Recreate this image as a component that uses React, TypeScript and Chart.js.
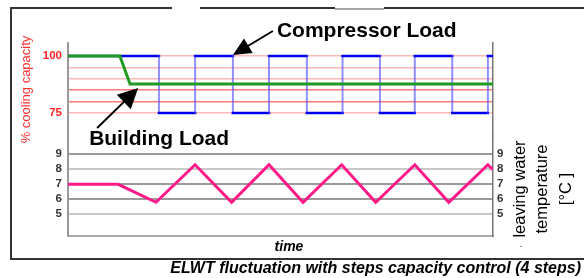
import React, { useEffect, useRef } from 'react';
import { Chart, registerables } from 'chart.js';

Chart.register(...registerables);

// ---------- data ----------
const buildingLoadTimes = [0, 12.2, 14.6, 100];
const buildingLoadValues = [100, 100, 87.7, 87.7];

const compressorSwitchTimes = [0, 21.4, 29.9, 38.8, 47.3, 56.2, 64.6, 73.4, 81.6, 90.4, 98.8];
const compressorLevels = [100, 75, 100, 75, 100, 75, 100, 75, 100, 75, 100];

const elwtTimes = [0, 11.8, 20.7, 29.9, 38.5, 47.3, 55.3, 64.4, 72.4, 81.6, 89.6, 98.8, 100];
const elwtValues = [7.0, 7.0, 5.8, 8.3, 5.8, 8.3, 5.8, 8.3, 5.8, 8.3, 5.8, 8.3, 7.98];

const capacityTicks = [100, 95, 90, 85, 80, 75];
const capacityLabelled = [100, 75];
const temperatureTicks = [9, 8, 7, 6, 5];

const timeRange = [0, 100];
const capacityRange = [64.9, 105.7];
const temperatureRange = [3.55, 10.22];

const compressorNote = { t: 38.8, v: 100, text: 'Compressor Load' };
const buildingNote = { t: 16.5, v: 87.7, text: 'Building Load' };
const leftTitle = '% cooling capacity';
const rightTitle = ['leaving water', 'temperature', '[°C ]'];
const xTitle = 'time';
const caption = 'ELWT fluctuation with steps capacity control (4 steps)';

// ---------- styles ----------
const FONT = '"Liberation Sans", Arial, Helvetica, sans-serif';
const capacityGridColor = (v: number) => (v === 85 || v === 80 ? '#ff7878' : '#ffb8b8');
const temperatureGridColor = (v: number) => (v === 8 || v === 5 ? '#c8c8c8' : '#9a9a9a');

function drawArrow(ctx: CanvasRenderingContext2D, x1: number, y1: number, x2: number, y2: number, headLen: number, headHalf: number) {
  const dx = x2 - x1;
  const dy = y2 - y1;
  const len = Math.hypot(dx, dy);
  const ux = dx / len;
  const uy = dy / len;
  const bx = x2 - ux * headLen;
  const by = y2 - uy * headLen;
  ctx.beginPath();
  ctx.moveTo(x1, y1);
  ctx.lineTo(bx + ux * 2, by + uy * 2);
  ctx.lineWidth = 2;
  ctx.strokeStyle = '#000';
  ctx.stroke();
  ctx.beginPath();
  ctx.moveTo(x2, y2);
  ctx.lineTo(bx - uy * headHalf, by + ux * headHalf);
  ctx.lineTo(bx + uy * headHalf, by - ux * headHalf);
  ctx.closePath();
  ctx.fillStyle = '#000';
  ctx.fill();
}

const overlayPlugin = {
  id: 'overlay',
  afterDraw(chart: any) {
    const { ctx } = chart;
    const xs = chart.scales.x;
    const yt = chart.scales.yTop;
    ctx.save();

    // outer frame
    ctx.lineWidth = 2;
    ctx.strokeStyle = '#333';
    ctx.beginPath();
    ctx.moveTo(11, 8);
    ctx.lineTo(11, 259);
    ctx.lineTo(584, 259);
    ctx.moveTo(10, 8);
    ctx.lineTo(172, 8);
    ctx.moveTo(200, 8);
    ctx.lineTo(335, 8);
    ctx.moveTo(384, 8);
    ctx.lineTo(584, 8);
    ctx.stroke();
    ctx.strokeStyle = '#888';
    ctx.lineWidth = 1.5;
    ctx.beginPath();
    ctx.moveTo(335, 9);
    ctx.lineTo(384, 9);
    ctx.stroke();

    // compressor annotation
    const cx = xs.getPixelForValue(compressorNote.t);
    const cy = yt.getPixelForValue(compressorNote.v);
    drawArrow(ctx, cx + 40, cy - 25, cx, cy - 1, 18, 8.5);
    ctx.font = `bold 21px ${FONT}`;
    ctx.fillStyle = '#000';
    ctx.textAlign = 'left';
    ctx.textBaseline = 'alphabetic';
    ctx.fillText(compressorNote.text, cx + 44, cy - 19);

    // building annotation
    const bx = xs.getPixelForValue(buildingNote.t);
    const by = yt.getPixelForValue(buildingNote.v) + 4;
    drawArrow(ctx, bx - 41, by + 40, bx, by, 20, 10);
    ctx.font = `bold 21px ${FONT}`;
    ctx.fillStyle = '#000';
    ctx.fillText(buildingNote.text, bx - 49, by + 57);

    // right axis title (reads bottom to top)
    ctx.font = `16.5px ${FONT}`;
    ctx.fillStyle = '#000';
    ctx.textAlign = 'center';
    ctx.textBaseline = 'middle';
    const rx = [520, 542, 566];
    rightTitle.forEach((line, i) => {
      ctx.save();
      ctx.translate(rx[i], 189);
      ctx.rotate(-Math.PI / 2);
      ctx.fillText(line, 0, 0);
      ctx.restore();
    });
    ctx.font = `9px ${FONT}`;
    ctx.fillStyle = '#777';
    ctx.fillText('-', 521, 247);

    // x title
    ctx.font = `italic bold 14px ${FONT}`;
    ctx.fillStyle = '#000';
    ctx.textAlign = 'center';
    ctx.textBaseline = 'alphabetic';
    ctx.fillText(xTitle, 289, 251);

    // caption
    ctx.font = `italic bold 16px ${FONT}`;
    ctx.textAlign = 'right';
    ctx.fillText(caption, 581, 273);

    ctx.restore();
  },
};

export default function App() {
  const ref = useRef<HTMLCanvasElement>(null);

  useEffect(() => {
    document.body.style.margin = '0';
    const compressorPoints: { x: number; y: number }[] = [];
    compressorSwitchTimes.forEach((t, i) => {
      if (i > 0) compressorPoints.push({ x: t, y: compressorLevels[i - 1] });
      compressorPoints.push({ x: t, y: compressorLevels[i] });
    });
    compressorPoints.push({ x: timeRange[1], y: compressorLevels[compressorLevels.length - 1] });

    const chart = new Chart(ref.current!, {
      type: 'line',
      data: {
        datasets: [
          {
            label: 'Building Load',
            data: buildingLoadTimes.map((t, i) => ({ x: t, y: buildingLoadValues[i] })),
            xAxisID: 'x',
            yAxisID: 'yTop',
            borderColor: '#229a22',
            borderWidth: 3,
            pointRadius: 0,
            tension: 0,
          },
          {
            label: 'Compressor Load',
            data: compressorPoints,
            xAxisID: 'x',
            yAxisID: 'yTop',
            borderColor: '#0000ee',
            borderWidth: 2.5,
            borderCapStyle: 'square',
            pointRadius: 0,
            tension: 0,
            segment: {
              borderColor: (c: any) => (c.p0.parsed.x === c.p1.parsed.x ? 'rgba(70,70,255,0.6)' : '#0000ee'),
              borderWidth: (c: any) => (c.p0.parsed.x === c.p1.parsed.x ? 2 : 2.5),
            },
          },
          {
            label: 'ELWT',
            data: elwtTimes.map((t, i) => ({ x: t, y: elwtValues[i] })),
            xAxisID: 'x',
            yAxisID: 'yBot',
            borderColor: '#ff1a8a',
            borderWidth: 3,
            pointRadius: 0,
            tension: 0,
          },
        ],
      },
      options: {
        responsive: false,
        animation: false,
        devicePixelRatio: 1,
        layout: { padding: { top: 43, left: 0, right: 0, bottom: 0 } },
        plugins: { legend: { display: false }, tooltip: { enabled: false }, title: { display: false } },
        events: [],
        scales: {
          x: {
            type: 'linear',
            position: 'bottom',
            min: timeRange[0],
            max: timeRange[1],
            ticks: { display: false },
            grid: { display: false, drawTicks: false },
            border: { color: '#a8a8a8', width: 2 },
            afterFit: (s: any) => { s.height = 42; },
          },
          yBot: {
            type: 'linear',
            position: 'left',
            stack: 'left',
            stackWeight: 100,
            min: temperatureRange[0],
            max: temperatureRange[1],
            afterBuildTicks: (s: any) => { s.ticks = temperatureTicks.map((v) => ({ value: v })); },
            ticks: { autoSkip: false, padding: 6, color: '#333', font: { family: FONT, size: 11.5, weight: 'bold' } },
            grid: { drawTicks: false, lineWidth: 2, color: (c: any) => temperatureGridColor(c.tick ? c.tick.value : 0) },
            border: { color: '#999', width: 2 },
            afterFit: (s: any) => { s.width = 68; },
          },
          yTop: {
            type: 'linear',
            position: 'left',
            stack: 'left',
            stackWeight: 93,
            min: capacityRange[0],
            max: capacityRange[1],
            afterBuildTicks: (s: any) => { s.ticks = capacityTicks.map((v) => ({ value: v })); },
            ticks: {
              autoSkip: false,
              padding: 6,
              color: '#ff2222',
              font: { family: FONT, size: 11.5, weight: 'bold' },
              callback: (v: any) => (capacityLabelled.includes(Number(v)) ? String(v) : ''),
            },
            grid: { drawTicks: false, lineWidth: 1.5, color: (c: any) => capacityGridColor(c.tick ? c.tick.value : 0) },
            border: { color: '#999', width: 2 },
            title: {
              display: true,
              text: leftTitle,
              color: '#ff3333',
              font: { family: FONT, size: 13 },
              padding: { top: 19, bottom: 0 },
            },
            afterFit: (s: any) => { s.width = 68; },
          },
          yTopR: {
            type: 'linear',
            position: 'right',
            stack: 'right',
            stackWeight: 93,
            min: capacityRange[0],
            max: capacityRange[1],
            ticks: { display: false },
            grid: { display: false, drawTicks: false },
            border: { color: '#777', width: 1.5 },
            afterFit: (s: any) => { s.width = 91; },
          },
          yBotR: {
            type: 'linear',
            position: 'right',
            stack: 'right',
            stackWeight: 100,
            min: temperatureRange[0],
            max: temperatureRange[1],
            afterBuildTicks: (s: any) => { s.ticks = temperatureTicks.map((v) => ({ value: v })); },
            ticks: { autoSkip: false, padding: 4, color: '#333', font: { family: FONT, size: 11.5, weight: 'bold' } },
            grid: { display: false, drawTicks: false },
            border: { color: '#777', width: 1.5 },
            afterFit: (s: any) => { s.width = 91; },
          },
        },
      } as any,
      plugins: [overlayPlugin],
    });
    return () => chart.destroy();
  }, []);

  return (
    <div style={{ position: 'absolute', left: 0, top: 0, width: 584, height: 278, background: '#fff' }}>
      <canvas ref={ref} width={584} height={278} style={{ display: 'block', width: 584, height: 278 }} />
    </div>
  );
}
